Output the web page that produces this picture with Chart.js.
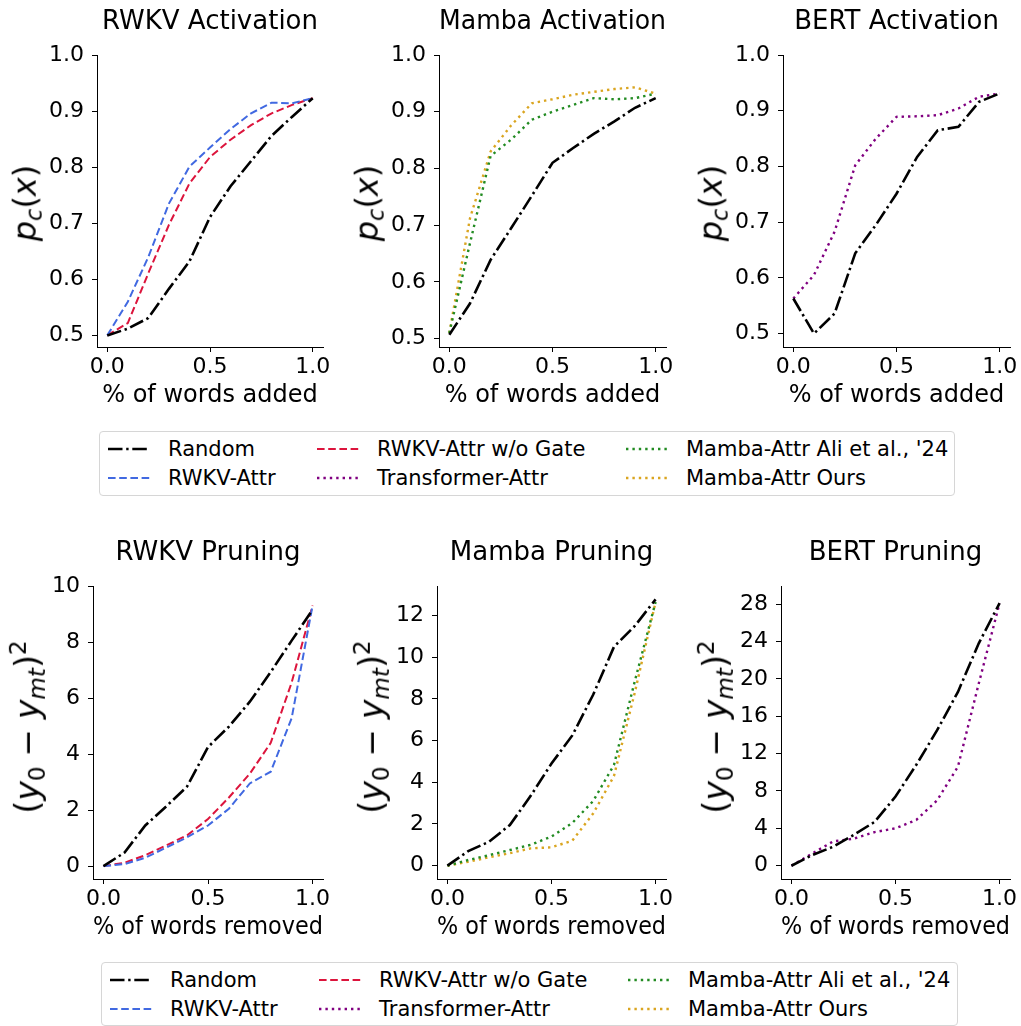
<!DOCTYPE html>
<html>
<head>
<meta charset="utf-8">
<script src="https://cdn.jsdelivr.net/npm/chart.js@4.4.1/dist/chart.umd.min.js"></script>
<style>
  body { margin: 0; background: #fff; width: 1021px; height: 1026px; position: relative; overflow: hidden; font-family: "DejaVu Sans", sans-serif; color: #000; }
  canvas { position: absolute; }
  .ylab { position: absolute; transform: translate(-50%, -50%) rotate(-90deg); white-space: nowrap; line-height: 1; }
  .ylab sub { font-size: 0.7em; vertical-align: -0.28em; }
  .ylab sup { font-size: 0.7em; vertical-align: 0.55em; }
  .legend { position: absolute; border: 1px solid #d6d6d6; border-radius: 4px; background: #fff; box-sizing: border-box; }
  .item { position: absolute; height: 28px; display: flex; align-items: center; font-size: 21px; white-space: nowrap; }
  .item svg { margin-right: 18px; }
</style>
</head>
<body>
<script>
// fraction of words added / removed
const fractions = [0, 0.1, 0.2, 0.3, 0.4, 0.5, 0.6, 0.7, 0.8, 0.9, 1.0];
const xTickLabels = ['0.0', '0.5', '1.0'];

// activation p_c(x)
const rwkvActRandom  = [0.500, 0.512, 0.531, 0.583, 0.632, 0.711, 0.766, 0.811, 0.856, 0.890, 0.923];
const rwkvActAttr    = [0.500, 0.560, 0.640, 0.735, 0.801, 0.835, 0.868, 0.896, 0.915, 0.914, 0.923];
const rwkvActNoGate  = [0.500, 0.522, 0.611, 0.697, 0.771, 0.818, 0.849, 0.875, 0.896, 0.911, 0.923];
const mambaActRandom = [0.507, 0.562, 0.639, 0.695, 0.752, 0.810, 0.836, 0.861, 0.883, 0.907, 0.924];
const mambaActAli    = [0.510, 0.668, 0.822, 0.851, 0.886, 0.900, 0.912, 0.924, 0.922, 0.924, 0.932];
const mambaActOurs   = [0.510, 0.712, 0.830, 0.876, 0.915, 0.922, 0.930, 0.935, 0.940, 0.943, 0.932];
const bertActRandom  = [0.563, 0.500, 0.536, 0.644, 0.695, 0.751, 0.817, 0.865, 0.871, 0.916, 0.931];
const bertActTransf  = [0.563, 0.605, 0.683, 0.802, 0.850, 0.889, 0.890, 0.892, 0.904, 0.925, 0.931];

// pruning (y0 - ymt)^2
const rwkvPruneRandom  = [0, 0.48, 1.45, 2.13, 2.84, 4.25, 4.98, 5.87, 6.93, 8.05, 9.15];
const rwkvPruneAttr    = [0, 0.07, 0.30, 0.66, 1.03, 1.45, 2.05, 2.95, 3.37, 5.28, 9.30];
const rwkvPruneNoGate  = [0, 0.12, 0.39, 0.74, 1.10, 1.68, 2.45, 3.30, 4.40, 6.55, 9.30];
const mambaPruneRandom = [0, 0.70, 1.15, 1.95, 3.35, 4.90, 6.25, 8.20, 10.50, 11.50, 12.78];
const mambaPruneAli    = [0, 0.27, 0.50, 0.75, 1.00, 1.40, 2.05, 3.10, 4.83, 8.85, 12.65];
const mambaPruneOurs   = [0, 0.19, 0.40, 0.60, 0.83, 0.88, 1.20, 2.50, 4.30, 8.30, 12.65];
const bertPruneRandom  = [0, 1.14, 2.03, 3.30, 4.70, 7.40, 10.80, 14.50, 18.60, 23.80, 28.10];
const bertPruneTransf  = [0, 1.30, 2.60, 2.90, 3.60, 4.00, 4.90, 7.00, 10.60, 19.50, 28.10];

const styles = {
  'Random':                     { color: '#000000', width: 2.6, dash: [14.5, 3.7, 2.4, 3.7] },
  'RWKV-Attr':                  { color: '#4169E1', width: 2.0, dash: [7.6, 3.6] },
  'RWKV-Attr w/o Gate':         { color: '#DC143C', width: 2.0, dash: [7.6, 3.6] },
  'Transformer-Attr':           { color: '#800080', width: 2.4, dash: [2.4, 4.0] },
  "Mamba-Attr Ali et al., '24": { color: '#228B22', width: 2.4, dash: [2.4, 4.0] },
  'Mamba-Attr Ours':            { color: '#DAA520', width: 2.4, dash: [2.4, 4.0] }
};

const FONT = 'DejaVu Sans';
const YW = 70, XH = 64, PAD_R = 11, TITLE_SIZE = 26, TITLE_LH = 1.2;
const TICK_SIZE = 22, XLABEL_SIZE = 24;

function makePanel(p) {
  const [l, t, r, b] = p.area;
  const canvas = document.createElement('canvas');
  const left = l - YW, top = p.canvasTop;
  const titleBlock = t - top;
  const w = YW + (r - l) + PAD_R;
  const h = titleBlock + (b - t) + XH;
  canvas.width = w; canvas.height = h;
  canvas.style.left = left + 'px'; canvas.style.top = top + 'px';
  canvas.style.width = w + 'px'; canvas.style.height = h + 'px';
  document.body.appendChild(canvas);

  const padTop = p.titleY - top - TITLE_SIZE * TITLE_LH / 2;
  const padBottom = titleBlock - padTop - TITLE_SIZE * TITLE_LH;

  new Chart(canvas, {
    type: 'line',
    data: {
      datasets: p.series.map(([name, vals]) => ({
        label: name,
        data: fractions.map((x, i) => ({ x: x, y: vals[i] })),
        borderColor: styles[name].color,
        borderWidth: styles[name].width,
        borderDash: styles[name].dash,
        pointRadius: 0,
        tension: 0,
        fill: false
      }))
    },
    options: {
      responsive: false,
      animation: false,
      devicePixelRatio: 1,
      layout: { padding: { top: 0, left: 0, right: PAD_R, bottom: 0 } },
      plugins: {
        legend: { display: false },
        tooltip: { enabled: false },
        title: {
          display: true, text: p.title, color: '#000', fullSize: false,
          font: { family: FONT, size: TITLE_SIZE, weight: 'normal', lineHeight: TITLE_LH },
          padding: { top: padTop, bottom: padBottom }
        }
      },
      scales: {
        x: {
          type: 'linear', min: -0.05, max: 1.05,
          afterFit: s => { s.height = XH; },
          grid: { drawOnChartArea: false, drawTicks: true, tickLength: 5, color: '#000', lineWidth: 1 },
          border: { display: true, color: '#000', width: 1 },
          ticks: {
            stepSize: 0.5, includeBounds: false, color: '#000', padding: 2, maxRotation: 0,
            font: { family: FONT, size: TICK_SIZE },
            callback: v => xTickLabels[Math.round(v * 2)]
          },
          title: {
            display: true, text: p.xlabel, color: '#000',
            font: { family: FONT, size: XLABEL_SIZE, lineHeight: 1.2 },
            padding: { top: 0, bottom: 1 }
          }
        },
        y: {
          type: 'linear', min: p.ymin, max: p.ymax,
          afterFit: s => { s.width = YW; },
          grid: { drawOnChartArea: false, drawTicks: true, tickLength: 5, color: '#000', lineWidth: 1 },
          border: { display: true, color: '#000', width: 1 },
          ticks: {
            stepSize: p.ystep, includeBounds: false, color: '#000', padding: 8,
            font: { family: FONT, size: TICK_SIZE },
            callback: v => p.ydec ? v.toFixed(p.ydec) : String(Math.round(v))
          }
        }
      }
    }
  });
}

const added = '% of words added', removed = '% of words removed';
const panels = [
  { title: 'RWKV Activation', area: [97, 55, 323, 347], canvasTop: 0, titleY: 22.5, xlabel: added,
    ymin: 0.4793, ymax: 1.0, ystep: 0.1, ydec: 1,
    series: [['Random', rwkvActRandom], ['RWKV-Attr', rwkvActAttr], ['RWKV-Attr w/o Gate', rwkvActNoGate]] },
  { title: 'Mamba Activation', area: [439, 55, 666, 347], canvasTop: 0, titleY: 22.5, xlabel: added,
    ymin: 0.4854, ymax: 1.0, ystep: 0.1, ydec: 1,
    series: [['Random', mambaActRandom], ["Mamba-Attr Ali et al., '24", mambaActAli], ['Mamba-Attr Ours', mambaActOurs]] },
  { title: 'BERT Activation', area: [783, 55, 1010, 347], canvasTop: 0, titleY: 22.5, xlabel: added,
    ymin: 0.4759, ymax: 1.0, ystep: 0.1, ydec: 1,
    series: [['Random', bertActRandom], ['Transformer-Attr', bertActTransf]] },
  { title: 'RWKV Pruning', area: [93, 586, 323, 879], canvasTop: 520, titleY: 553.5, xlabel: removed,
    ymin: -0.46, ymax: 10, ystep: 2, ydec: 0,
    series: [['Random', rwkvPruneRandom], ['RWKV-Attr', rwkvPruneAttr], ['RWKV-Attr w/o Gate', rwkvPruneNoGate]] },
  { title: 'Mamba Pruning', area: [437, 586, 666, 879], canvasTop: 520, titleY: 553.5, xlabel: removed,
    ymin: -0.64, ymax: 13.42, ystep: 2, ydec: 0,
    series: [['Random', mambaPruneRandom], ["Mamba-Attr Ali et al., '24", mambaPruneAli], ['Mamba-Attr Ours', mambaPruneOurs]] },
  { title: 'BERT Pruning', area: [781, 586, 1010, 879], canvasTop: 520, titleY: 553.5, xlabel: removed,
    ymin: -1.42, ymax: 29.93, ystep: 4, ydec: 0,
    series: [['Random', bertPruneRandom], ['Transformer-Attr', bertPruneTransf]] }
];
panels.forEach(makePanel);

// y axis labels (math text)
const pcLabel = '<i>p</i><sub><i>c</i></sub>(<i>x</i>)';
const sqLabel = '(<i>y</i><sub>0</sub><span style="margin:0 0.3em">\u2212</span><i>y</i><sub><i>mt</i></sub>)<sup>2</sup>';
panels.forEach((p, i) => {
  const d = document.createElement('div');
  d.className = 'ylab';
  d.innerHTML = i < 3 ? pcLabel : sqLabel;
  d.style.fontSize = (i < 3 ? 32 : 33) + 'px';
  d.style.left = (p.area[0] - (i < 3 ? 70 : 65)) + 'px';
  d.style.top = ((p.area[1] + p.area[3]) / 2 + (i < 3 ? 2 : -6)) + 'px';
  document.body.appendChild(d);
});

// legends
const legendOrder = [
  ['Random', 0, 0], ['RWKV-Attr', 0, 1],
  ['RWKV-Attr w/o Gate', 1, 0], ['Transformer-Attr', 1, 1],
  ["Mamba-Attr Ali et al., '24", 2, 0], ['Mamba-Attr Ours', 2, 1]
];
function makeLegend(box, colX) {
  const lg = document.createElement('div');
  lg.className = 'legend';
  lg.style.left = box[0] + 'px'; lg.style.top = box[1] + 'px';
  lg.style.width = (box[2] - box[0]) + 'px'; lg.style.height = (box[3] - box[1]) + 'px';
  legendOrder.forEach(([name, col, row]) => {
    const st = styles[name];
    const it = document.createElement('div');
    it.className = 'item';
    it.style.left = (colX[col] - box[0]) + 'px';
    it.style.top = (3 + row * 28.5) + 'px';
    it.innerHTML = '<svg width="42" height="10"><line x1="0" y1="5" x2="42" y2="5" stroke="' + st.color +
      '" stroke-width="' + st.width + '" stroke-dasharray="' + st.dash.join(' ') + '"/></svg><span></span>';
    it.querySelector('span').textContent = name;
    lg.appendChild(it);
  });
  document.body.appendChild(lg);
}
makeLegend([99, 431, 955, 496], [107, 316, 625]);
makeLegend([101, 962, 958, 1026], [109, 318, 627]);
</script>
</body>
</html>
